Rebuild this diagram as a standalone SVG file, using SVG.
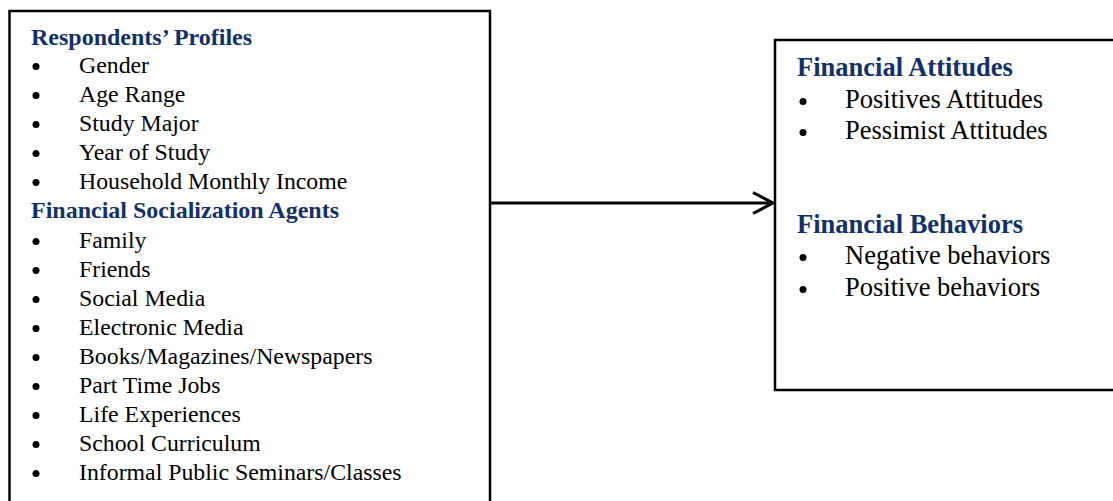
<svg xmlns="http://www.w3.org/2000/svg" width="1113" height="501" viewBox="0 0 1113 501">
<style>
.box{fill:#fff;stroke:#000;stroke-width:2.5}
.hl{font-family:"Liberation Serif","Times New Roman",serif;font-weight:bold;fill:#13306e;font-size:24px}
.il{font-family:"Liberation Serif","Times New Roman",serif;fill:#000;font-size:23.8px}
.hr{font-family:"Liberation Serif","Times New Roman",serif;font-weight:bold;fill:#13306e;font-size:26.5px}
.ir{font-family:"Liberation Serif","Times New Roman",serif;fill:#000;font-size:26.5px}
.conn{fill:none;stroke:#000;stroke-width:3}
</style>
<rect width="1113" height="501" fill="#fff"/>
<g id="node-left">
<rect class="box" x="9.5" y="11" width="480.5" height="510"/>
<text class="hl" x="31" y="45">Respondents’ Profiles</text>
<g fill="#000">
<circle cx="36" cy="66.5" r="3.5"/><circle cx="36" cy="95.5" r="3.5"/><circle cx="36" cy="124.5" r="3.5"/><circle cx="36" cy="153.5" r="3.5"/><circle cx="36" cy="182.5" r="3.5"/>
<circle cx="36" cy="241.5" r="3.5"/><circle cx="36" cy="270.5" r="3.5"/><circle cx="36" cy="299.5" r="3.5"/><circle cx="36" cy="328.5" r="3.5"/><circle cx="36" cy="357.5" r="3.5"/><circle cx="36" cy="386.5" r="3.5"/><circle cx="36" cy="415.5" r="3.5"/><circle cx="36" cy="444.5" r="3.5"/><circle cx="36" cy="473.5" r="3.5"/>
</g>
<text class="il" x="79" y="73">Gender</text>
<text class="il" x="79" y="102">Age Range</text>
<text class="il" x="79" y="131">Study Major</text>
<text class="il" x="79" y="160">Year of Study</text>
<text class="il" x="79" y="189">Household Monthly Income</text>
<text class="hl" x="31" y="218">Financial Socialization Agents</text>
<text class="il" x="79" y="248">Family</text>
<text class="il" x="79" y="277">Friends</text>
<text class="il" x="79" y="306">Social Media</text>
<text class="il" x="79" y="335">Electronic Media</text>
<text class="il" x="79" y="364">Books/Magazines/Newspapers</text>
<text class="il" x="79" y="393">Part Time Jobs</text>
<text class="il" x="79" y="422">Life Experiences</text>
<text class="il" x="79" y="451">School Curriculum</text>
<text class="il" x="79" y="480">Informal Public Seminars/Classes</text>
</g>
<g id="node-right">
<rect class="box" x="775" y="40" width="360" height="350"/>
<text class="hr" x="797" y="76">Financial Attitudes</text>
<g fill="#000">
<circle cx="803" cy="101.5" r="3.5"/><circle cx="803" cy="132.5" r="3.5"/>
<circle cx="803" cy="257.5" r="3.5"/><circle cx="803" cy="289.5" r="3.5"/>
</g>
<text class="ir" x="845" y="108">Positives Attitudes</text>
<text class="ir" x="845" y="139">Pessimist Attitudes</text>
<text class="hr" x="797" y="233">Financial Behaviors</text>
<text class="ir" x="845" y="264">Negative behaviors</text>
<text class="ir" x="845" y="296">Positive behaviors</text>
</g>
<g id="connectors">
<line class="conn" x1="491" y1="203" x2="772" y2="203"/>
<polyline class="conn" points="753,192.5 773,203 753,213.5"/>
</g>
</svg>
